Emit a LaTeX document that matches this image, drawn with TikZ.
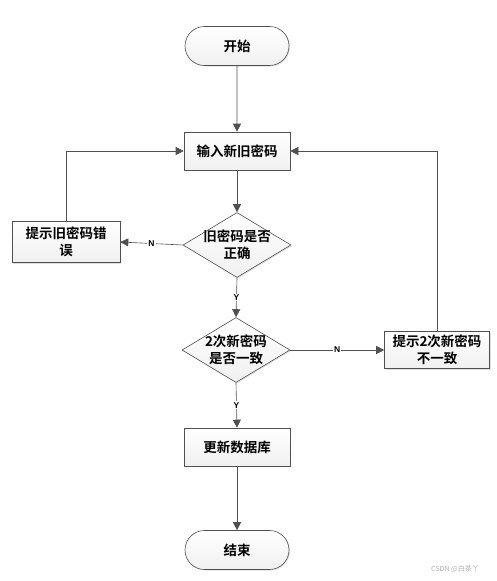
\documentclass[tikz,border=0pt]{standalone}
\usepackage{fontspec}
\newfontfamily\cjk{Noto Sans CJK SC}[BoldFont={Noto Sans CJK SC Bold}]
\setmainfont{Liberation Sans}
\usetikzlibrary{arrows.meta,shapes.geometric,shapes.misc,shadows}
\definecolor{edge}{HTML}{505050}
\definecolor{boxfill}{HTML}{F0F0F0}
\tikzset{
  base/.style={draw=edge, line width=0.6pt, top color=white, bottom color=boxfill, font=\cjk\bfseries\fontsize{13.5}{17}\selectfont, align=center, inner sep=1pt, drop shadow={shadow xshift=1pt, shadow yshift=-1pt, opacity=0.25}},
  term/.style={base, rounded rectangle, minimum width=106pt, minimum height=39pt},
  procbox/.style={base, rectangle, minimum width=106pt, minimum height=38pt},
  decision/.style={base, diamond, aspect=1.65, minimum width=108pt, minimum height=65pt, inner sep=-6pt},
  conn/.style={draw=edge, line width=0.6pt, -{Triangle[length=8pt,width=8pt]}},
  lbl/.style={font=\bfseries\fontsize{8.5}{9}\selectfont, fill=white, inner sep=1pt, text=black}
}
\begin{document}
\begin{tikzpicture}[x=1pt,y=-1pt]
\useasboundingbox[fill=white] (0,0) rectangle (496,581);
\node[term] (start) at (237,46) {开始};
\node[procbox] (input) at (237,151) {输入新旧密码};
\node[decision] (d1) at (237,245) {旧密码是否\\正确};
\node[procbox, minimum width=108pt, minimum height=41pt] (err) at (66,242) {提示旧密码错\\误};
\node[decision] (d2) at (236,350) {2次新密码\\是否一致};
\node[procbox, minimum width=105pt, minimum height=37pt] (mis) at (437,350) {提示2次新密码\\不一致};
\node[procbox] (upd) at (237,447) {更新数据库};
\node[term] (stop) at (237,550) {结束};
\coordinate (lc) at (66,151);
\coordinate (rc) at (437,151);
\draw[conn] (start) -- (input);
\draw[conn] (input) -- (d1);
\draw[conn] (d1.west) -- node[lbl] {N} (err.east);
\draw[conn] (err.north) -- (lc) -- (input.west);
\draw[conn] (d1.south) -- node[lbl] {Y} (d2.north);
\draw[conn] (d2.east) -- node[lbl] {N} (mis.west);
\draw[conn] (mis.north) -- (rc) -- (input.east);
\draw[conn] (d2.south) -- node[lbl] {Y} (upd.north);
\draw[conn] (upd) -- (stop);
\node[font=\cjk\fontsize{7}{8}\selectfont, text=gray!60] (wm) at (455,569) {CSDN @白茶丫};
\end{tikzpicture}
\end{document}
